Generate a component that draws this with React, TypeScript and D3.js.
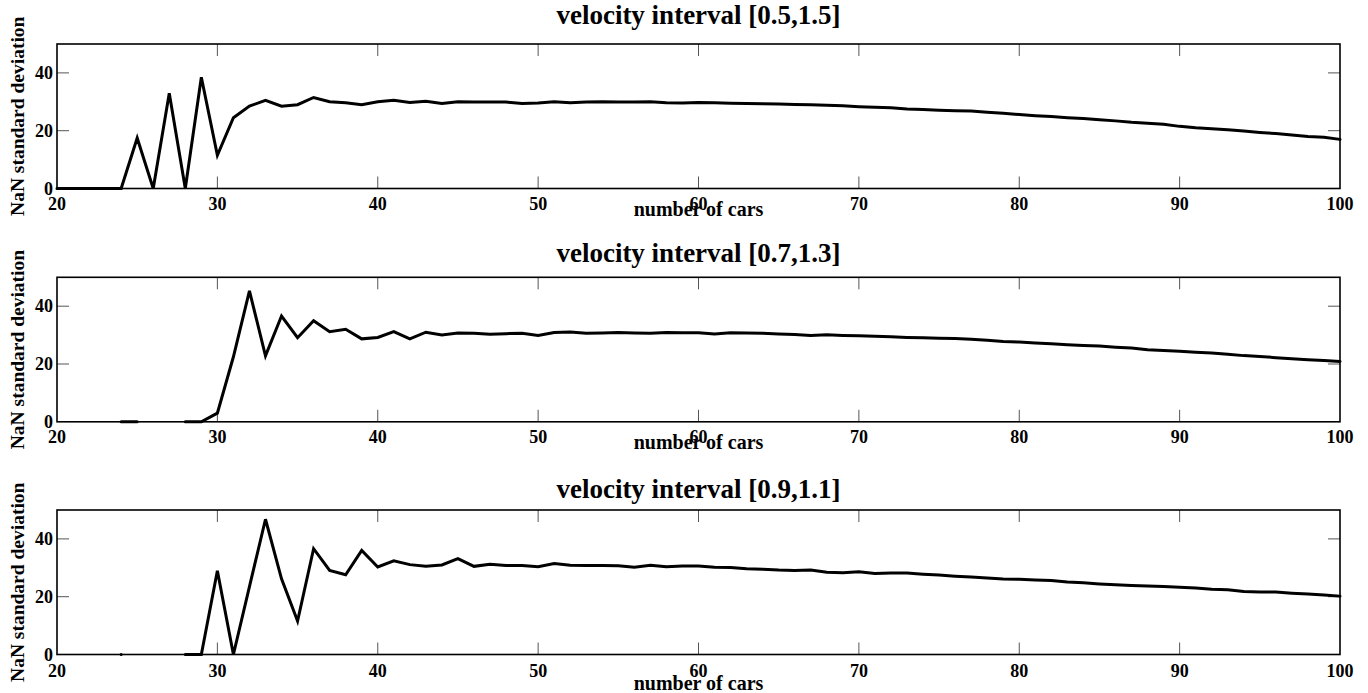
import React from "react";
import * as d3 from "d3";

// number of cars on the x axis
const carCounts = d3.range(20, 101);

const titles = [
  "velocity interval [0.5,1.5]",
  "velocity interval [0.7,1.3]",
  "velocity interval [0.9,1.1]",
];

const xTicks = [20, 30, 40, 50, 60, 70, 80, 90, 100];
const yTicks = [0, 20, 40];

// null = no value (NaN) for that number of cars
const sd05 = [
  0, 0, 0, 0, 0, 17.5, 0, 33, 0, 38.5,
  11.5, 24.5, 28.5, 30.5, 28.5, 29, 31.5, 30, 29.7, 29,
  30, 30.5, 29.8, 30.2, 29.4, 30, 29.9, 29.9, 29.9, 29.4,
  29.6, 30, 29.7, 29.9, 30, 29.9, 29.9, 30, 29.7, 29.6,
  29.8, 29.7, 29.5, 29.4, 29.3, 29.2, 29.1, 29.0, 28.8, 28.6,
  28.3, 28.1, 27.9, 27.5, 27.3, 27.1, 26.9, 26.8, 26.4, 26.0,
  25.6, 25.2, 24.9, 24.5, 24.2, 23.8, 23.4, 22.9, 22.6, 22.2,
  21.5, 21.0, 20.7, 20.3, 19.9, 19.4, 19.0, 18.5, 18.0, 17.7,
  17.0,
];

const sd07 = [
  null, null, null, null, 0, 0, null, null, 0, 0,
  3, 22.5, 45.3, 22.8, 36.6, 29.1, 35, 31.2, 32, 28.7,
  29.2, 31.2, 28.7, 31.0, 30.0, 30.7, 30.6, 30.3, 30.5, 30.6,
  29.9, 30.9, 31.1, 30.6, 30.7, 30.9, 30.7, 30.6, 30.9, 30.8,
  30.8, 30.4, 30.8, 30.7, 30.6, 30.4, 30.2, 29.9, 30.1, 29.9,
  29.8, 29.6, 29.4, 29.2, 29.1, 28.9, 28.8, 28.6, 28.2, 27.8,
  27.6, 27.3, 27.0, 26.7, 26.4, 26.2, 25.8, 25.5, 24.9, 24.7,
  24.4, 24.1, 23.8, 23.4, 22.9, 22.6, 22.2, 21.8, 21.5, 21.2,
  20.9,
];

const sd09 = [
  null, null, null, null, 0, null, null, null, 0, 0,
  29, 0, 23.5, 46.8, 26.2, 11.6, 36.6, 29.1, 27.6, 36,
  30.3, 32.4, 31.1, 30.5, 31.0, 33.2, 30.5, 31.2, 30.8, 30.8,
  30.4, 31.5, 30.9, 30.8, 30.8, 30.7, 30.2, 30.9, 30.4, 30.6,
  30.6, 30.2, 30.1, 29.7, 29.5, 29.2, 29.1, 29.2, 28.5, 28.3,
  28.6, 28.0, 28.2, 28.2, 27.8, 27.5, 27.1, 26.8, 26.5, 26.1,
  26.0, 25.8, 25.6, 25.1, 24.8, 24.4, 24.1, 23.9, 23.7, 23.5,
  23.3, 23.0, 22.6, 22.4, 21.8, 21.6, 21.6, 21.2, 20.9, 20.6,
  20.2,
];

const series = [sd05, sd07, sd09];

const W = 1368;
const H = 693;
const left = 57;
const right = 1340;
const panelH = 144.5;
const panelTops = [44, 277.3, 510];
const titleY = [24, 262, 498];
const tickLabelDy = [21, 21, 22];
const xLabelDy = [27, 27, 35];

const font = "'Liberation Serif', 'Times New Roman', serif";

const x = d3.scaleLinear().domain([20, 100]).range([left, right]);

function Panel({ idx }: { idx: number }) {
  const top = panelTops[idx];
  const bottom = top + panelH;
  const y = d3.scaleLinear().domain([0, 50]).range([bottom, top]);
  const pts = carCounts.map((c, i) => ({ c, v: series[idx][i] }));
  const line = d3
    .line<{ c: number; v: number | null }>()
    .defined((d) => d.v !== null)
    .x((d) => x(d.c))
    .y((d) => y(d.v as number));
  const tl = 12;
  return (
    <g>
      <text
        x={(left + right) / 2}
        y={titleY[idx]}
        textAnchor="middle"
        fontFamily={font}
        fontWeight="bold"
        fontSize={27}
      >
        {titles[idx]}
      </text>
      {/* inner ticks */}
      {xTicks.slice(1, -1).map((t) => (
        <g key={"x" + t} stroke="#555" strokeWidth={1}>
          <line x1={x(t)} x2={x(t)} y1={bottom} y2={bottom - tl} />
          <line x1={x(t)} x2={x(t)} y1={top} y2={top + tl} />
        </g>
      ))}
      {yTicks.slice(1).map((t) => (
        <g key={"y" + t} stroke="#555" strokeWidth={1}>
          <line x1={left} x2={left + tl} y1={y(t)} y2={y(t)} />
          <line x1={right} x2={right - tl} y1={y(t)} y2={y(t)} />
        </g>
      ))}
      <rect
        x={left}
        y={top}
        width={right - left}
        height={panelH}
        fill="none"
        stroke="#000"
        strokeWidth={1.6}
      />
      <path
        d={line(pts) || ""}
        fill="none"
        stroke="#000"
        strokeWidth={3}
        strokeLinejoin="miter"
        strokeLinecap="round"
      />
      {xTicks.map((t) => (
        <text
          key={"xl" + t}
          x={x(t)}
          y={bottom + tickLabelDy[idx]}
          textAnchor="middle"
          fontFamily={font}
          fontWeight="bold"
          fontSize={18}
        >
          {t}
        </text>
      ))}
      {yTicks.map((t) => (
        <text
          key={"yl" + t}
          x={left - 4}
          y={y(t) + 6}
          textAnchor="end"
          fontFamily={font}
          fontWeight="bold"
          fontSize={18}
        >
          {t}
        </text>
      ))}
      <text
        x={(left + right) / 2}
        y={bottom + xLabelDy[idx]}
        textAnchor="middle"
        fontFamily={font}
        fontWeight="bold"
        fontSize={20}
      >
        number of cars
      </text>
      <text
        transform={`translate(24,${(top + bottom) / 2}) rotate(-90)`}
        textAnchor="middle"
        fontFamily={font}
        fontWeight="bold"
        fontSize={19.5}
      >
        NaN standard deviation
      </text>
    </g>
  );
}

export default function App() {
  return (
    <svg
      width={W}
      height={H}
      style={{ position: "absolute", left: 0, top: 0, background: "#fff" }}
    >
      {[0, 1, 2].map((i) => (
        <Panel key={i} idx={i} />
      ))}
    </svg>
  );
}
